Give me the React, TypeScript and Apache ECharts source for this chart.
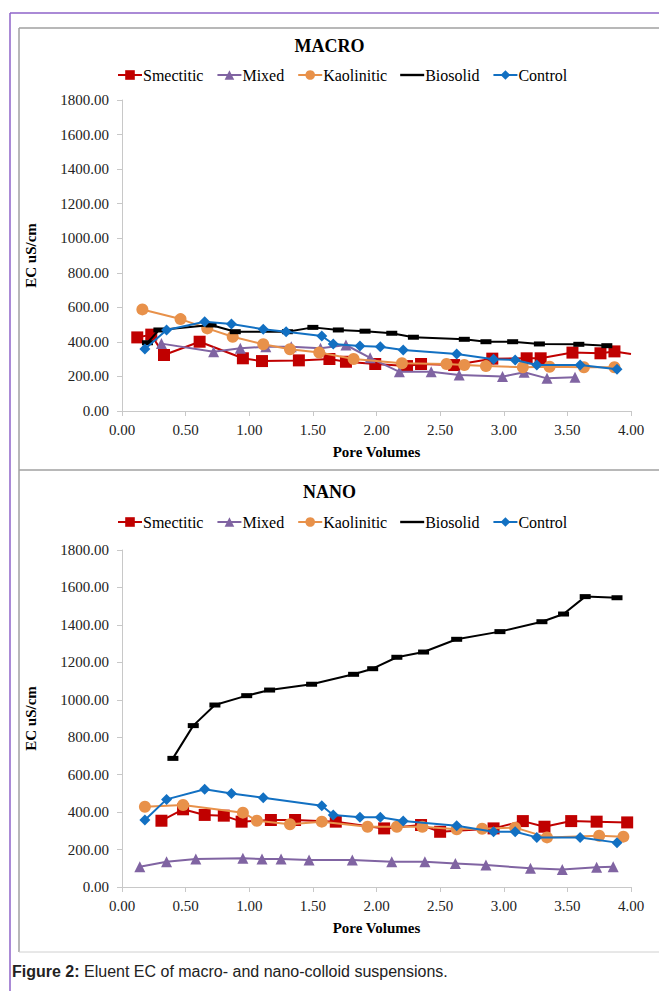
import React, { useEffect, useRef } from "react";
import * as echarts from "echarts";

const seriesNames = ["Smectitic", "Mixed", "Kaolinitic", "Biosolid", "Control"];
const seriesColors = ["#C00000", "#8064A2", "#E8914A", "#000000", "#1270C2"];
const panelTitles = ["MACRO", "NANO"];
const xAxisTitle = "Pore Volumes";
const yAxisTitle = "EC uS/cm";
const caption = "Eluent EC of macro- and nano-colloid suspensions.";

// MACRO panel
const macroSmectitic = [
  [0.12, 426], [0.23, 442], [0.33, 324], [0.61, 401], [0.95, 305], [1.1, 289], [1.39, 293],
  [1.63, 301], [1.76, 285], [1.99, 272], [2.24, 260], [2.35, 272], [2.61, 266], [2.91, 303],
  [3.18, 305], [3.29, 305], [3.54, 338], [3.76, 334], [3.87, 345], [4.0, 330],
];
const macroMixed = [
  [0.31, 390], [0.72, 343], [0.93, 363], [1.13, 372], [1.33, 372], [1.56, 363], [1.76, 382],
  [1.95, 308], [2.18, 227], [2.43, 227], [2.65, 208], [2.99, 199], [3.16, 224], [3.34, 189], [3.56, 195],
];
const macroKaolinitic = [
  [0.16, 588], [0.46, 532], [0.67, 478], [0.87, 430], [1.11, 386], [1.32, 357], [1.55, 338],
  [1.82, 301], [2.2, 276], [2.55, 272], [2.69, 266], [2.86, 260], [3.15, 253], [3.36, 256],
  [3.63, 253], [3.87, 253],
];
const macroBiosolid = [
  [0.2, 395], [0.29, 469], [0.7, 498], [0.89, 459], [1.3, 459], [1.5, 484], [1.7, 469],
  [1.91, 462], [2.12, 450], [2.29, 427], [2.69, 415], [2.86, 401], [3.07, 401], [3.28, 388],
  [3.59, 386], [3.81, 378],
];
const macroControl = [
  [0.18, 359], [0.35, 469], [0.65, 517], [0.86, 503], [1.11, 473], [1.29, 459], [1.57, 434],
  [1.66, 388], [1.87, 376], [2.03, 372], [2.21, 353], [2.63, 330], [2.92, 299], [3.09, 295],
  [3.26, 266], [3.6, 266], [3.89, 241],
];

// NANO panel
const nanoSmectitic = [
  [0.31, 354], [0.48, 415], [0.65, 385], [0.8, 381], [0.94, 349], [1.17, 358], [1.36, 358],
  [1.68, 349], [2.06, 313], [2.35, 331], [2.5, 295], [2.92, 313], [3.15, 352], [3.32, 322],
  [3.53, 352], [3.73, 349], [3.97, 345],
];
const nanoMixed = [
  [0.14, 108], [0.35, 135], [0.58, 150], [0.95, 153], [1.1, 150], [1.25, 150], [1.47, 144],
  [1.81, 144], [2.12, 135], [2.38, 135], [2.62, 126], [2.86, 117], [3.21, 100], [3.46, 94],
  [3.73, 105], [3.86, 108],
];
const nanoKaolinitic = [
  [0.18, 429], [0.48, 438], [0.95, 397], [1.06, 354], [1.32, 335], [1.57, 349], [1.93, 322],
  [2.16, 322], [2.36, 322], [2.63, 308], [2.83, 311], [3.09, 317], [3.34, 265], [3.75, 274], [3.94, 269],
];
const nanoBiosolid = [
  [0.4, 687], [0.56, 862], [0.73, 972], [0.98, 1022], [1.16, 1052], [1.49, 1083], [1.82, 1136],
  [1.97, 1166], [2.16, 1227], [2.37, 1255], [2.63, 1323], [2.97, 1364], [3.3, 1417], [3.47, 1458],
  [3.64, 1551], [3.89, 1545],
];
const nanoControl = [
  [0.18, 358], [0.35, 468], [0.65, 522], [0.86, 500], [1.11, 477], [1.57, 434], [1.66, 385],
  [1.87, 372], [2.03, 372], [2.21, 352], [2.63, 327], [2.92, 295], [3.09, 295], [3.26, 265],
  [3.6, 265], [3.89, 237],
];

const macroData = [macroSmectitic, macroMixed, macroKaolinitic, macroBiosolid, macroControl];
const nanoData = [nanoSmectitic, nanoMixed, nanoKaolinitic, nanoBiosolid, nanoControl];

const symbols = ["rect", "triangle", "circle", "rect", "diamond"];
const symbolSizes: any[] = [12, 11, 12, [11, 5], 11];

const SERIF = "'Liberation Serif', 'Times New Roman', serif";

export default function App() {
  const ref = useRef<HTMLDivElement>(null);
  useEffect(() => {
    if (!ref.current) return;
    const chart = echarts.init(ref.current, undefined, { renderer: "svg" });

    const grids = [
      { left: 122, top: 100, width: 509, height: 311 },
      { left: 122, top: 550, width: 509, height: 337 },
    ];

    const mkX = (i: number) => ({
      type: "value",
      gridIndex: i,
      min: 0,
      max: 4,
      interval: 0.5,
      name: xAxisTitle,
      nameLocation: "middle",
      nameGap: 33,
      nameTextStyle: { fontFamily: SERIF, fontSize: 15, fontWeight: "bold", color: "#000" },
      axisLine: { show: true, onZero: false, lineStyle: { color: "#C8C8C8", width: 1 } },
      axisTick: { show: true, inside: false, length: 5, lineStyle: { color: "#C8C8C8" } },
      axisLabel: {
        margin: 11,
        fontFamily: SERIF,
        fontSize: 15,
        color: "#222",
        formatter: (v: number) => v.toFixed(2),
      },
      splitLine: { show: false },
    });
    const mkY = (i: number) => ({
      type: "value",
      gridIndex: i,
      min: 0,
      max: 1800,
      interval: 200,
      name: yAxisTitle,
      nameLocation: "middle",
      nameGap: 84,
      nameRotate: 90,
      nameTextStyle: { fontFamily: SERIF, fontSize: 15, fontWeight: "bold", color: "#000" },
      axisLine: { show: true, lineStyle: { color: "#C8C8C8", width: 1 } },
      axisTick: { show: true, inside: false, length: 5, lineStyle: { color: "#C8C8C8" } },
      axisLabel: {
        margin: 13,
        fontFamily: SERIF,
        fontSize: 15,
        color: "#222",
        formatter: (v: number) => v.toFixed(2),
      },
      splitLine: { show: false },
    });

    const series: any[] = [];
    [macroData, nanoData].forEach((panel, gi) => {
      panel.forEach((d, si) => {
        const pts = d.map((p, k) => {
          if (gi === 0 && si === 0 && k === d.length - 1) {
            return { value: p, symbol: "none" };
          }
          return p;
        });
        series.push({
          type: "line",
          name: seriesNames[si],
          xAxisIndex: gi,
          yAxisIndex: gi,
          data: pts,
          symbol: symbols[si],
          symbolSize: symbolSizes[si],
          showAllSymbol: true,
          clip: false,
          lineStyle: { color: seriesColors[si], width: 2 },
          itemStyle: { color: seriesColors[si] },
          emphasis: { disabled: true },
          z: 2 + si,
        });
      });
    });

    const legendData = seriesNames.map((n) =>
      n === "Biosolid" ? { name: n, icon: "path://M0,0 L24,0 L24,2.4 L0,2.4 Z" } : { name: n }
    );

    const legendBase = {
      left: "center",
      itemWidth: 24,
      itemHeight: 12,
      itemGap: 13,
      data: legendData,
      textStyle: { fontFamily: SERIF, fontSize: 16, color: "#000", padding: [0, 0, 0, -4] },
      selectedMode: false,
    };

    chart.setOption({
      animation: false,
      backgroundColor: "#fff",
      title: [
        { text: panelTitles[0], left: "center", top: 32, textStyle: { fontFamily: SERIF, fontSize: 18, fontWeight: "bold", color: "#000" } },
        { text: panelTitles[1], left: "center", top: 478, textStyle: { fontFamily: SERIF, fontSize: 18, fontWeight: "bold", color: "#000" } },
      ],
      legend: [
        { ...legendBase, top: 62, left: 112 },
        { ...legendBase, top: 509, left: 112 },
      ],
      grid: grids,
      xAxis: [mkX(0), mkX(1)],
      yAxis: [mkY(0), mkY(1)],
      series,
      graphic: [
        { type: "line", shape: { x1: 10, y1: 13, x2: 660, y2: 13 }, style: { stroke: "#8E63C9", lineWidth: 1.5 } },
        { type: "line", shape: { x1: 10, y1: 13, x2: 10, y2: 992 }, style: { stroke: "#8E63C9", lineWidth: 1.5 } },
        { type: "line", shape: { x1: 19, y1: 28, x2: 660, y2: 28 }, style: { stroke: "#A0A0A0", lineWidth: 1.5 } },
        { type: "line", shape: { x1: 19, y1: 28, x2: 19, y2: 952 }, style: { stroke: "#A0A0A0", lineWidth: 1.5 } },
        { type: "line", shape: { x1: 19, y1: 470, x2: 660, y2: 470 }, style: { stroke: "#A0A0A0", lineWidth: 1.5 } },
        { type: "line", shape: { x1: 19, y1: 952, x2: 660, y2: 952 }, style: { stroke: "#D0D0D0", lineWidth: 1 } },
        {
          type: "text",
          left: 12,
          top: 963,
          style: {
            text: "{b|Figure 2:} " + caption,
            fontFamily: "'Liberation Sans', Arial, sans-serif",
            fontSize: 16,
            fill: "#222",
            rich: { b: { fontWeight: "bold", fontFamily: "'Liberation Sans', Arial, sans-serif", fontSize: 16, fill: "#222" } },
          },
        },
      ],
    });
    return () => chart.dispose();
  }, []);
  return (
    <div
      ref={ref}
      style={{ position: "absolute", left: 0, top: 0, width: 659, height: 991 }}
    />
  );
}
